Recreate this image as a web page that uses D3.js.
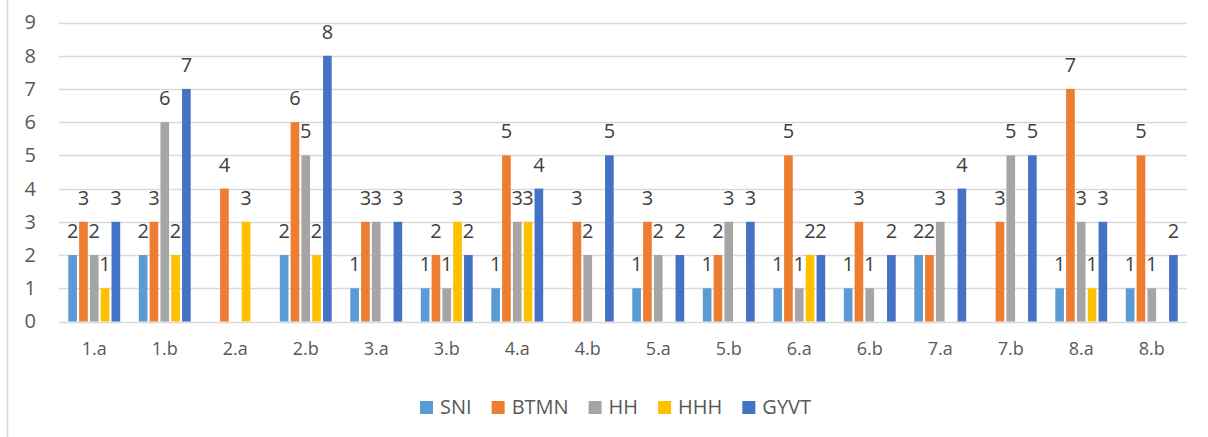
<!DOCTYPE html>
<html>
<head>
<meta charset="utf-8">
<script src="https://cdn.jsdelivr.net/npm/d3@7"></script>
<style>
  body { margin: 0; background: #fff; }
  svg { display: block; font-family: "Open Sans", "Liberation Sans", sans-serif; }
</style>
</head>
<body>
<div class="chart"></div>
<script>
// categories and series
var categories = ["1.a","1.b","2.a","2.b","3.a","3.b","4.a","4.b","5.a","5.b","6.a","6.b","7.a","7.b","8.a","8.b"];
var seriesNames = ["SNI","BTMN","HH","HHH","GYVT"];
var seriesColors = ["#5B9BD5","#ED7D31","#A5A5A5","#FFC000","#4472C4"];

var SNI  = [2,2,0,2,1,1,1,0,1,1,1,1,2,0,1,1];
var BTMN = [3,3,4,6,3,2,5,3,3,2,5,3,2,3,7,5];
var HH   = [2,6,0,5,3,1,3,2,2,3,1,1,3,5,3,1];
var HHH  = [1,2,3,2,0,3,3,0,0,0,2,0,0,0,1,0];
var GYVT = [3,7,0,8,3,2,4,5,2,3,2,2,4,5,3,2];
var yTicks = [0,1,2,3,4,5,6,7,8,9];

var seriesValues = [SNI, BTMN, HH, HHH, GYVT];
var FONT = "'Open Sans', 'Liberation Sans', sans-serif";

var W = 1208, H = 437;
var svg = d3.select(".chart").append("svg")
  .attr("width", W).attr("height", H);

// outer chart border (only left edge visible in the picture)
svg.append("line")
  .attr("x1", 7.5).attr("x2", 7.5).attr("y1", 0).attr("y2", H)
  .attr("stroke", "#d9d9d9").attr("stroke-width", 1.5);

var x0 = d3.scaleBand().domain(categories).range([59, 1187]);
var bw = x0.bandwidth();
var x1 = d3.scaleBand().domain(seriesNames)
  .range([bw * 0.132, bw * 0.868]).paddingInner(0.2);
var y = d3.scaleLinear().domain([0, 9]).range([321.5, 22.5]);

// gridlines
svg.append("g").selectAll("line")
  .data(yTicks).enter().append("line")
  .attr("x1", 59).attr("x2", 1187)
  .attr("y1", function(d) { return Math.round(y(d)) + 0.5; })
  .attr("y2", function(d) { return Math.round(y(d)) + 0.5; })
  .attr("stroke", "#d9d9d9").attr("stroke-width", 1.3);

// y axis labels
var yAxis = d3.axisLeft(y).tickValues(yTicks).tickSize(0).tickPadding(0);
var gy = svg.append("g").attr("transform", "translate(36,0)").call(yAxis);
gy.select(".domain").remove();
gy.selectAll("text")
  .attr("font-size", 20).attr("fill", "#595959")
  .attr("font-family", FONT);

// x axis labels
var xAxis = d3.axisBottom(x0).tickSize(0).tickPadding(0);
var gx = svg.append("g").attr("transform", "translate(0,342)").call(xAxis);
gx.select(".domain").remove();
gx.selectAll("text")
  .attr("font-size", 18).attr("fill", "#595959")
  .attr("font-family", FONT);

// flatten data
var rows = [];
categories.forEach(function(c, i) {
  seriesNames.forEach(function(s, j) {
    rows.push({cat: c, series: s, value: seriesValues[j][i], color: seriesColors[j]});
  });
});
var nonZero = rows.filter(function(d) { return d.value > 0; });

// bars
svg.append("g").selectAll("rect")
  .data(nonZero).enter().append("rect")
  .attr("x", function(d) { return x0(d.cat) + x1(d.series); })
  .attr("y", function(d) { return y(d.value); })
  .attr("width", x1.bandwidth())
  .attr("height", function(d) { return y(0) - y(d.value); })
  .attr("fill", function(d) { return d.color; });

// data labels
svg.append("g").selectAll("text")
  .data(nonZero).enter().append("text")
  .attr("x", function(d) { return x0(d.cat) + x1(d.series) + x1.bandwidth() / 2; })
  .attr("y", function(d) { return y(d.value) - 17; })
  .attr("text-anchor", "middle")
  .attr("font-size", 20)
  .attr("fill", "#404040")
  .text(function(d) { return d.value; });

// legend
var legend = svg.append("g");
var items = legend.selectAll("g").data(seriesNames).enter().append("g");
items.append("rect")
  .attr("width", 13).attr("height", 13).attr("y", -13)
  .attr("fill", function(d, i) { return seriesColors[i]; });
items.append("text")
  .attr("x", 20).attr("y", 0)
  .attr("font-size", 20).attr("fill", "#595959")
  .text(function(d) { return d; });
var pos = 0;
items.each(function() {
  var g = d3.select(this);
  var tw = g.select("text").node().getComputedTextLength();
  g.attr("transform", "translate(" + pos + ",0)");
  pos += 20 + tw + 20;
});
legend.attr("transform", "translate(420,414)");
</script>
</body>
</html>
